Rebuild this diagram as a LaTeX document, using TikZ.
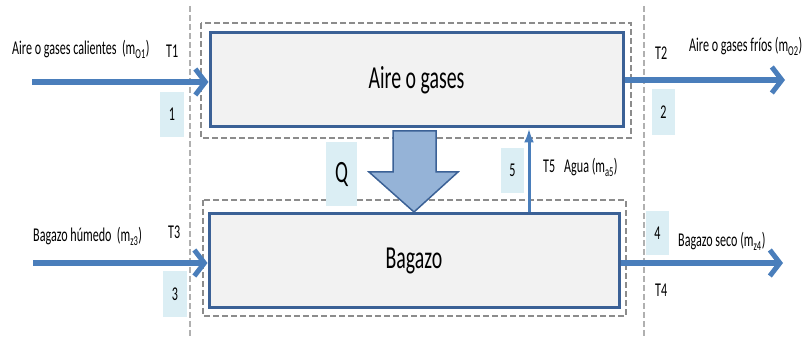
\documentclass[tikz,border=0pt]{standalone}
\usepackage{fontspec}
\setmainfont{Carlito}[FakeStretch=0.62]
\usetikzlibrary{arrows.meta}

\definecolor{flowblue}{HTML}{4A7EBB}
\definecolor{boxedge}{HTML}{3B6196}
\definecolor{boxfill}{HTML}{F2F2F2}
\definecolor{tagfill}{HTML}{DBEEF4}
\definecolor{dashgray}{HTML}{8C8C8C}
\definecolor{guidegray}{HTML}{B0B0B0}
\definecolor{heatfill}{HTML}{95B3D7}
\definecolor{heatedge}{HTML}{3B6196}

\tikzset{
  stage/.style={draw=boxedge, line width=3pt, fill=boxfill, inner sep=0pt,
    font=\fontsize{32}{36}\selectfont},
  envelope/.style={draw=dashgray, line width=1.5pt, dash pattern=on 6pt off 3pt},
  guide/.style={draw=guidegray, line width=1.2pt, dash pattern=on 6pt off 3pt},
  flow/.style={draw=flowblue, line width=6pt,
    -{Straight Barb[length=10pt, width=26pt, line width=5pt]}},
  vapour/.style={draw=flowblue, line width=3pt,
    -{Latex[length=14pt, width=10pt]}},
  tag/.style={fill=tagfill, inner sep=0pt, font=\fontsize{19.5}{22}\selectfont},
  lbl/.style={inner sep=0pt, anchor=base west, font=\fontsize{19.5}{22}\selectfont},
  heat/.style={draw=heatedge, line width=1.5pt, fill=heatfill, line join=miter},
}

\begin{document}
\begin{tikzpicture}[x=1pt, y=-1pt]
\useasboundingbox (0,0) rectangle (804,339);

% control-volume boundaries
\draw[guide] (190,6) -- (190,337);
\draw[guide] (644,6) -- (644,337);

% dashed envelopes around each stream
\draw[envelope] (201,23) rectangle (631,138);
\draw[envelope] (203,200) rectangle (626,316);

% the two streams
\node[stage, minimum width=413pt, minimum height=94pt] (aire) at (416.5,80) {Aire o gases};
\node[stage, minimum width=410pt, minimum height=94pt] (bag) at (414,261) {Bagazo};

% free ends of the flows
\coordinate (in1) at (32,82);
\coordinate (out2) at (785,80);
\coordinate (in3) at (33,263);
\coordinate (out4) at (783,263);
\coordinate (up5) at (529,0);

\draw[flow] (in1) -- (aire.west |- in1);
\draw[flow] (aire.east |- out2) -- (out2);
\draw[flow] (in3) -- (bag.west |- in3);
\draw[flow] (bag.east |- out4) -- (out4);

% water vapour leaving the bagasse
\draw[vapour] (bag.north -| up5) -- (aire.south -| up5);

% heat transferred from the gas to the bagasse
\draw[heat] (393,131) -- (436,131) -- (436,172) -- (458,172) -- (414,212)
  -- (369,172) -- (393,172) -- cycle;

% state tags
\node[tag, minimum width=24pt, minimum height=45pt] (t1) at (172,114.5) {1};
\node[tag, minimum width=23pt, minimum height=46pt] (t2) at (663.5,112) {2};
\node[tag, minimum width=24pt, minimum height=46pt] (t3) at (175,294) {3};
\node[tag, minimum width=23pt, minimum height=44pt] (t4) at (657.5,233) {4};
\node[tag, minimum width=23pt, minimum height=45pt] (t5) at (512.5,170.5) {5};
\node[tag, minimum width=31pt, minimum height=64pt, font=\fontsize{31}{34}\selectfont] (q) at (341.5,174) {Q};

% stream labels
\node[lbl] (l1) at (12,55) {Aire o gases calientes\ \ (m\textsubscript{O1})};
\node[lbl] (T1) at (166,58) {T1};
\node[lbl] (l2) at (689,52) {Aire o gases fríos (m\textsubscript{O2})};
\node[lbl] (T2) at (655,60) {T2};
\node[lbl] (l3) at (33,242) {Bagazo húmedo\ \ (m\textsubscript{z3})};
\node[lbl] (T3) at (168,239) {T3};
\node[lbl] (l4) at (678,247) {Bagazo seco (m\textsubscript{z4})};
\node[lbl] (T4) at (655,297) {T4};
\node[lbl] (l5) at (543,173) {T5\hspace{9pt}Agua (m\textsubscript{a5})};
\end{tikzpicture}
\end{document}
